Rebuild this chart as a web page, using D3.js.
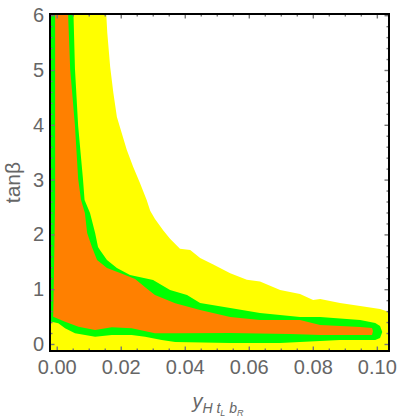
<!DOCTYPE html>
<html lang="en">
<head>
<meta charset="UTF-8">
<title>tan beta vs y_H tL bR</title>
<script src="https://d3js.org/d3.v7.min.js"></script>
<style>
  html, body { margin: 0; padding: 0; background: #fff; }
  svg { display: block; }
  .tick-label { font-family: "Liberation Sans", Arial, sans-serif; font-size: 20px; fill: #666; }
  .axis-title { font-family: "Liberation Sans", Arial, sans-serif; fill: #666; }
</style>
</head>
<body>
<svg id="chart" width="400" height="418"></svg>
<script>
// tick values / labels
const xMajor = [0, 0.02, 0.04, 0.06, 0.08, 0.10];
const xMajorLabels = ["0.00", "0.02", "0.04", "0.06", "0.08", "0.10"];
const yMajor = [0, 1, 2, 3, 4, 5, 6];
const yMajorLabels = ["0", "1", "2", "3", "4", "5", "6"];

// region boundaries [y_H tL bR, tanβ]
const yellowRegion = [
  [-0.005, 6.1], [0.0154, 6.1], [0.0158, 5.675], [0.0167, 5.055], [0.0177, 4.58],
  [0.0188, 4.142], [0.0203, 3.85], [0.0219, 3.54], [0.0239, 3.23], [0.026, 2.938],
  [0.0281, 2.628], [0.0292, 2.43], [0.0307, 2.28], [0.0333, 2.07], [0.0354, 1.92],
  [0.0385, 1.74], [0.0417, 1.715], [0.0448, 1.569], [0.0489, 1.45], [0.0542, 1.29],
  [0.0594, 1.17], [0.0635, 1.14], [0.0698, 0.985], [0.076, 0.912], [0.0801, 0.803],
  [0.0823, 0.821], [0.0885, 0.748], [0.0948, 0.693], [0.101, 0.639], [0.1038, 0.584],
  [0.106, 0.584], [0.106, -0.3], [-0.005, -0.3]
];

const greenRegion = [
  [-0.005, 6.1], [0.0052, 6.1], [0.0057, 5.018], [0.0067, 3.978], [0.0082, 3.011],
  [0.0087, 2.628], [0.0104, 2.391], [0.012, 2.026], [0.0129, 1.77], [0.0135, 1.715],
  [0.0157, 1.533], [0.0188, 1.387], [0.0229, 1.259], [0.0301, 1.168], [0.0354, 0.985],
  [0.0407, 0.894], [0.0448, 0.748], [0.0542, 0.657], [0.0635, 0.566], [0.076, 0.493],
  [0.0823, 0.493], [0.0948, 0.438], [0.0995, 0.383], [0.101, 0.328], [0.1017, 0.219],
  [0.101, 0.109], [0.0995, 0.073], [0.0885, 0.073], [0.076, 0.036], [0.0698, 0.018],
  [0.0542, 0.018], [0.037, 0.035], [0.0328, 0.073], [0.0276, 0.133], [0.0234, 0.164],
  [0.0172, 0.164], [0.012, 0.133], [0.0057, 0.195], [0.0026, 0.286], [0.0005, 0.378],
  [-0.0016, 0.407], [-0.005, 0.407]
];

const orangeRegion = [
  [-0.0005, 6.1], [0.0035, 6.1], [0.0042, 5.018], [0.0057, 3.978], [0.0067, 3.011],
  [0.0076, 2.628], [0.0088, 2.391], [0.0095, 2.026], [0.011, 1.77], [0.0126, 1.533],
  [0.0157, 1.387], [0.0198, 1.296], [0.0245, 1.186], [0.028, 1.016], [0.0307, 0.894],
  [0.037, 0.743], [0.0448, 0.62], [0.0542, 0.493], [0.0635, 0.438], [0.076, 0.438],
  [0.0823, 0.347], [0.0948, 0.31], [0.0985, 0.292], [0.0988, 0.237], [0.0985, 0.164],
  [0.0823, 0.164], [0.0729, 0.182], [0.0542, 0.201], [0.037, 0.195], [0.0307, 0.195],
  [0.0234, 0.286], [0.0172, 0.305], [0.012, 0.255], [0.0068, 0.316], [0.0026, 0.407],
  [-0.0011, 0.498], [-0.001, 0.803], [-0.0005, 2.628]
];

const svg = d3.select("#chart");
const margin = {top: 14, right: 11, bottom: 67, left: 50};
const width = +svg.attr("width") - margin.left - margin.right;
const height = +svg.attr("height") - margin.top - margin.bottom;

const x = d3.scaleLinear().domain([-0.0021, 0.1038]).range([0, width]);
const y = d3.scaleLinear().domain([-0.128, 6.022]).range([height, 0]);

const g = svg.append("g").attr("transform", `translate(${margin.left},${margin.top})`);

g.append("clipPath").attr("id", "plot-clip")
  .append("rect").attr("width", width).attr("height", height);

const area = g.append("g").attr("clip-path", "url(#plot-clip)");
const line = d3.line().x(d => x(d[0])).y(d => y(d[1])).curve(d3.curveLinearClosed);

area.append("path").datum(yellowRegion).attr("d", line).attr("fill", "#ffff00");
area.append("path").datum(greenRegion).attr("d", line).attr("fill", "#00ff00");
area.append("path").datum(orangeRegion).attr("d", line).attr("fill", "#ff8000");

// minor tick positions
const xMinor = d3.range(0, 0.1001, 0.005).filter(v => !xMajor.some(m => Math.abs(m - v) < 1e-9));
const yMinor = d3.range(0.2, 5.9, 0.2).filter(v => !yMajor.some(m => Math.abs(m - v) < 1e-9));

const tickColor = "#777";
function styleAxis(sel) {
  sel.select(".domain").remove();
  sel.selectAll(".tick line").attr("stroke", tickColor).attr("stroke-width", 1.4);
}
function styleLabels(sel) {
  sel.selectAll(".tick text").attr("class", "tick-label")
    .attr("font-size", null).attr("font-family", null);
}

// bottom
g.append("g").attr("transform", `translate(0,${height})`)
  .call(d3.axisBottom(x).tickValues(xMajor).tickSize(-4.5).tickSizeOuter(0)
    .tickPadding(9).tickFormat((d, i) => xMajorLabels[i]))
  .call(styleAxis)
  .call(styleLabels);
g.append("g").attr("transform", `translate(0,${height})`)
  .call(d3.axisBottom(x).tickValues(xMinor).tickSize(-2.5).tickSizeOuter(0).tickFormat(""))
  .call(styleAxis);
// top
g.append("g")
  .call(d3.axisTop(x).tickValues(xMajor).tickSize(-4.5).tickSizeOuter(0).tickFormat(""))
  .call(styleAxis);
g.append("g")
  .call(d3.axisTop(x).tickValues(xMinor).tickSize(-2.5).tickSizeOuter(0).tickFormat(""))
  .call(styleAxis);
// left
g.append("g")
  .call(d3.axisLeft(y).tickValues(yMajor).tickSize(-4.5).tickSizeOuter(0)
    .tickPadding(6).tickFormat((d, i) => yMajorLabels[i]))
  .call(styleAxis)
  .call(styleLabels);
g.append("g")
  .call(d3.axisLeft(y).tickValues(yMinor).tickSize(-2.5).tickSizeOuter(0).tickFormat(""))
  .call(styleAxis);
// right
g.append("g").attr("transform", `translate(${width},0)`)
  .call(d3.axisRight(y).tickValues(yMajor).tickSize(-4.5).tickSizeOuter(0).tickFormat(""))
  .call(styleAxis);
g.append("g").attr("transform", `translate(${width},0)`)
  .call(d3.axisRight(y).tickValues(yMinor).tickSize(-2.5).tickSizeOuter(0).tickFormat(""))
  .call(styleAxis);

// frame
g.append("rect")
  .attr("width", width).attr("height", height)
  .attr("fill", "none").attr("stroke", "#000").attr("stroke-width", 2);

// x title: y_{H t_L b_R}
const xt = svg.append("text").attr("class", "axis-title")
  .attr("x", 218).attr("y", 408)
  .attr("text-anchor", "middle").attr("font-style", "italic");
xt.append("tspan").attr("font-size", 20).text("y");
xt.append("tspan").attr("font-size", 14).attr("dy", 5).text("H t");
xt.append("tspan").attr("font-size", 9).attr("dy", 2.5).text("L");
xt.append("tspan").attr("font-size", 14).attr("dy", -2.5).text(" b");
xt.append("tspan").attr("font-size", 9).attr("dy", 2.5).text("R");

// y title
svg.append("text").attr("class", "axis-title")
  .attr("transform", `translate(19.5,${margin.top + height / 2}) rotate(-90)`)
  .attr("text-anchor", "middle").attr("font-size", 21)
  .text("tanβ");
</script>
</body>
</html>
